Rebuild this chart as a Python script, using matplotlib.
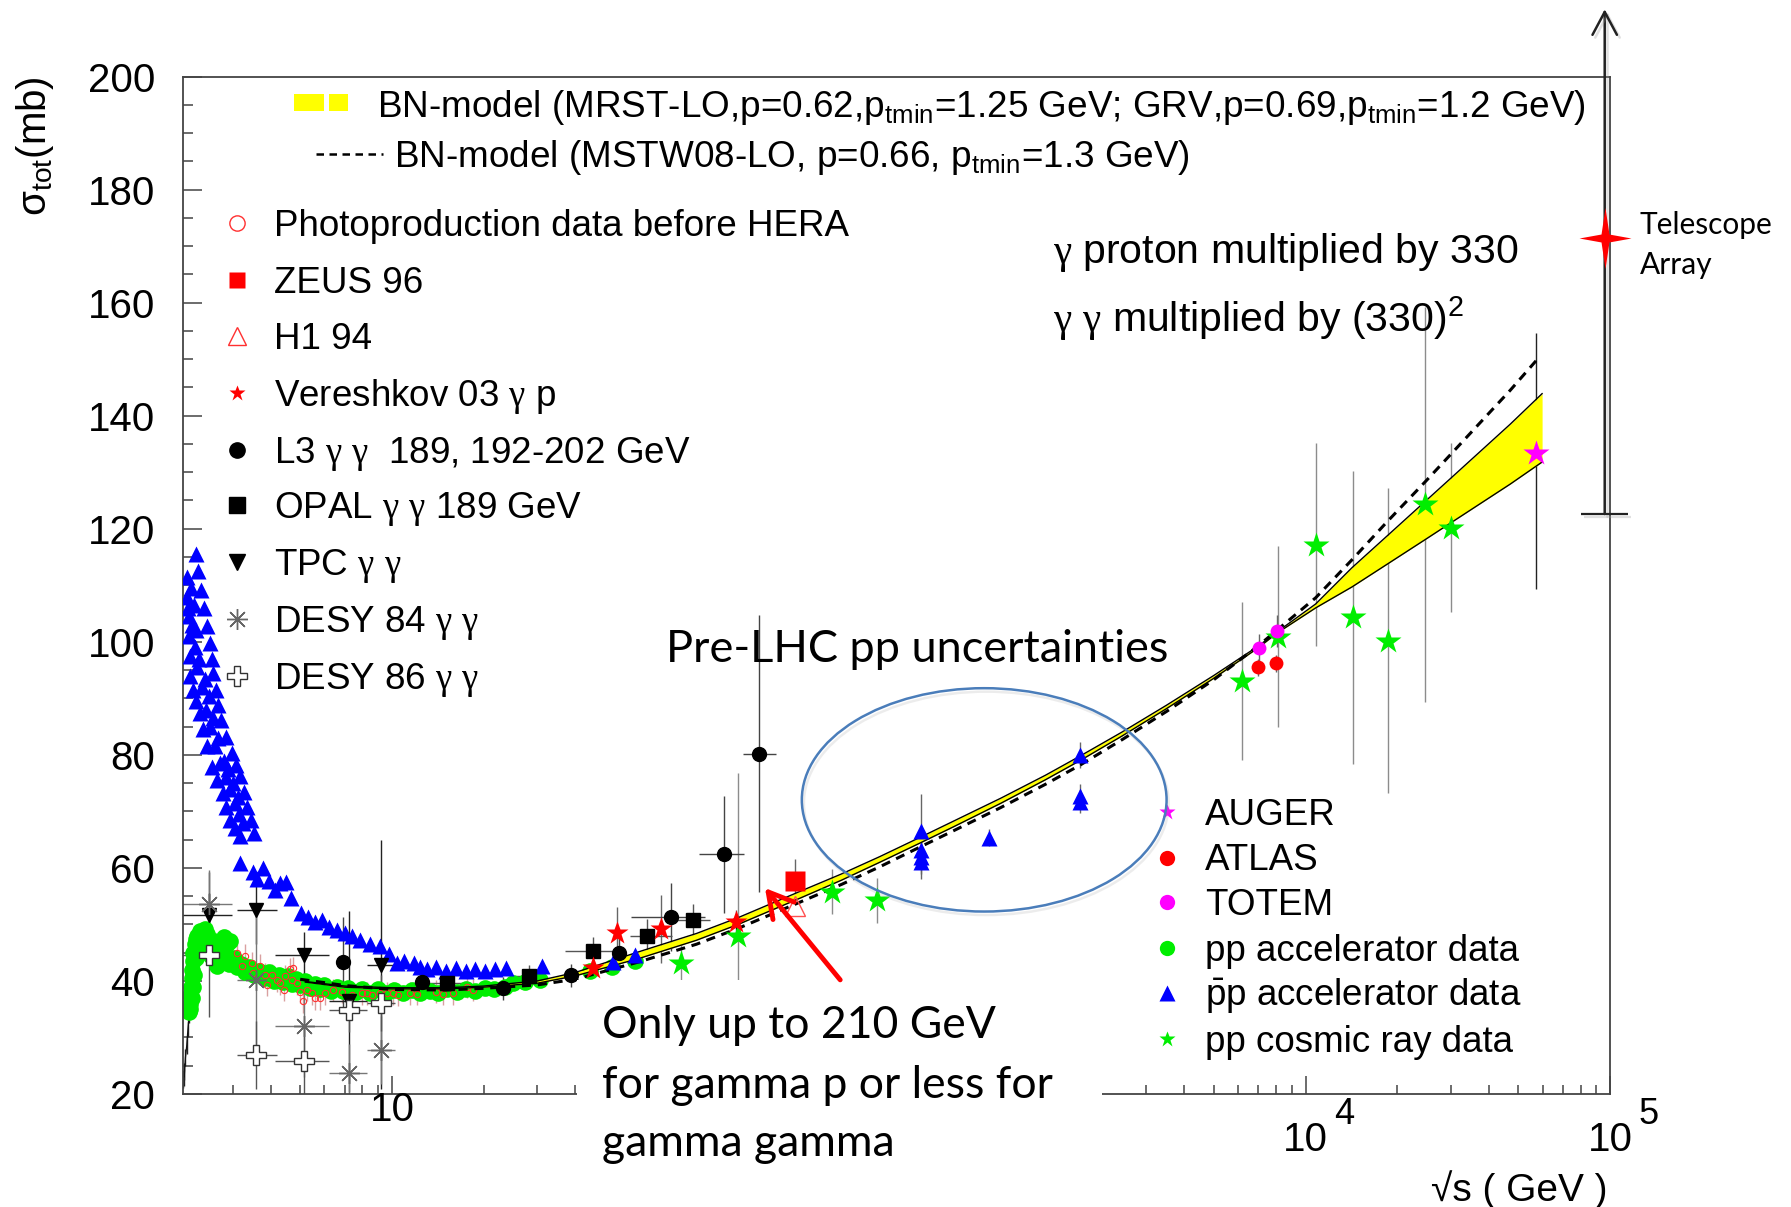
# Total cross sections: pp, pbar-p, gamma-p (x330) and gamma-gamma (x330^2) vs sqrt(s)
import numpy as np
import matplotlib
matplotlib.use("Agg")
import matplotlib.pyplot as plt
import matplotlib.transforms as mtransforms
import matplotlib.patheffects as pe
from matplotlib.patches import Ellipse, Rectangle
from matplotlib.path import Path
from matplotlib.ticker import LogLocator, MultipleLocator, NullFormatter

plt.rcParams['font.family'] = ['Liberation Sans', 'DejaVu Sans']
plt.rcParams['mathtext.fontset'] = 'custom'
plt.rcParams['mathtext.rm'] = 'Liberation Sans'
plt.rcParams['mathtext.it'] = 'Liberation Sans:italic'
plt.rcParams['mathtext.bf'] = 'Liberation Sans:bold'
plt.rcParams['mathtext.sf'] = 'Liberation Serif'   # used for the gamma symbols

# ---------------- BN model curves ----------------
band_x = [5.2, 7, 10, 15, 20, 30, 40, 65, 100, 137, 220, 300, 400, 547, 700, 1000, 1400,
          1820, 2500, 3500, 5000, 7000, 8040, 10800, 14200, 18500, 24900, 30500, 47000, 59800]
band_hi = [39.9, 39.1, 38.8, 38.8, 39.1, 40.0, 41.5, 45.2, 48.4, 51.2, 55.9, 58.95, 62.0,
           65.5, 68.3, 72.35, 76.4, 79.8, 84.05, 88.8, 94.05, 99.25, 101.7, 106.7, 113.1,
           118.7, 125.0, 129.3, 138.5, 143.9]
band_lo = [39.8, 38.9, 38.6, 38.6, 38.9, 39.6, 40.9, 44.0, 47.2, 50.0, 54.7, 57.85, 61.0,
           64.5, 67.3, 71.45, 75.6, 79.0, 83.35, 88.2, 93.55, 98.95, 101.5, 106.0, 109.7,
           113.7, 118.2, 121.3, 127.9, 131.8]

mstw_x = [5.0, 7, 10, 15, 20, 30, 40, 65, 100, 137, 220, 300, 400, 547, 700, 1000, 1400,
          1820, 2500, 3500, 5000, 7000, 10800, 14200, 18500, 24900, 30500, 47000, 57300]
mstw_y = [40.3, 39.2, 38.5, 38.4, 38.7, 39.3, 40.3, 43.4, 46.5, 49.3, 54.0, 57.1, 60.2,
          63.8, 66.6, 70.7, 74.8, 78.2, 82.7, 87.7, 93.3, 99.3, 107.8, 114.5, 121.2, 128.5,
          133.6, 144.5, 149.8]

# ---------------- accelerator data ----------------
pp_x = [2.16, 2.17, 2.18, 2.19, 2.20, 2.21, 2.22, 2.23, 2.25, 2.27, 2.30, 2.34, 2.38, 2.43,
        2.48, 2.52, 2.55, 2.60, 2.66, 2.72, 2.80, 2.88, 2.95, 3.02, 3.10, 3.20, 3.30, 3.40,
        3.52, 3.65, 3.80, 3.95, 4.10, 4.25, 4.40, 4.55, 4.70, 4.85, 5.00, 5.20, 5.40, 5.60,
        5.80, 6.00, 6.30, 6.60, 6.90, 7.20, 7.60, 8.00, 8.50, 9.00, 9.60, 10.2, 10.9, 11.6,
        12.4, 13.3, 14.2, 15.2, 16.3, 17.5, 18.8, 20.2, 21.7, 23.5, 25.0, 27.4, 30.6, 44.7,
        52.8, 62.7,
        2.18, 2.20, 2.22, 2.24, 2.28, 2.32, 2.36, 2.40, 2.45, 2.50, 2.58, 2.68, 2.76, 2.84,
        2.92]
pp_y = [34.5, 36.0, 37.5, 39.0, 40.5, 42.0, 43.5, 45.0, 46.5, 47.5, 48.0, 48.8, 48.5, 49.2,
        48.3, 47.0, 44.5, 47.0, 42.6, 46.0, 47.8, 46.5, 47.0, 44.0, 42.5, 43.0, 41.5, 42.5,
        41.0, 41.8, 40.5, 41.5, 40.0, 41.0, 39.8, 40.8, 39.5, 40.3, 39.2, 40.0, 38.8, 39.5,
        38.5, 39.2, 38.3, 39.0, 38.2, 38.8, 38.0, 38.6, 37.8, 38.5, 37.9, 38.4, 37.8, 38.4,
        37.9, 38.3, 37.8, 38.5, 38.0, 38.6, 38.2, 38.8, 38.5, 38.9, 39.6, 39.8, 40.1, 41.7,
        42.4, 43.6,
        35.0, 37.0, 39.0, 41.0, 44.0, 45.5, 46.0, 46.5, 45.5, 45.0, 45.5, 44.5, 44.0, 44.5,
        43.0]

# pp near threshold (thin black)
ppthr_x = [2.06, 2.07, 2.08, 2.10, 2.12, 2.14, 2.16]
ppthr_y = [22.5, 24.0, 23.0, 26.5, 28.5, 31.5, 34.0]

ppbar_x = [2.12, 2.13, 2.14, 2.15, 2.16, 2.17, 2.18, 2.22, 2.27, 2.34, 2.40, 2.47, 2.56, 2.66,
           2.78, 2.86, 2.94, 3.05, 3.18,
           2.27, 2.31, 2.36, 2.42, 2.47, 2.53, 2.56, 2.59, 2.64, 2.69, 2.74, 2.85, 2.98, 3.08,
           3.18, 3.26, 3.35, 3.44, 3.52,
           2.20, 2.25, 2.30, 2.38, 2.45, 2.52, 2.62, 2.72, 2.85, 2.95, 3.05, 3.15,
           2.19, 2.24, 2.28, 2.33, 2.43, 2.50, 2.58, 2.68, 2.80, 2.90, 3.00, 3.12, 3.25,
           3.16, 3.50, 3.62, 3.78, 3.95, 4.12, 4.30, 4.50, 4.68, 5.02, 5.30, 5.60, 5.90, 6.22,
           6.60, 7.00, 7.40, 7.86, 8.50, 9.15, 9.80, 10.4, 11.0, 11.8, 12.4, 13.0, 14.0, 15.0,
           16.2, 17.5, 18.8, 20.2, 21.8, 23.7, 31.2, 53.4, 63.0]
ppbar_y = [111.5, 108.0, 106.0, 104.5, 101.0, 97.5, 93.9, 91.5, 89.5, 87.4, 84.5, 81.5, 77.9,
           75.5, 73.2, 70.8, 68.5, 67.0, 65.6,
           115.6, 112.5, 109.2, 106.0, 102.8, 99.8, 97.0, 94.4, 91.5, 88.8, 86.2, 83.2, 80.3,
           78.2, 76.2, 73.5, 70.8, 68.4, 66.1,
           103.0, 99.0, 95.5, 92.0, 88.0, 85.0, 81.5, 78.5, 76.0, 74.0, 71.5, 69.5,
           109.5, 106.5, 102.0, 97.0, 93.5, 90.5, 86.5, 83.0, 79.0, 77.5, 75.0, 72.5, 68.0,
           60.9, 59.2, 58.0, 59.9, 57.6, 56.1, 57.3, 57.5, 54.6, 52.0, 51.3, 50.5, 50.8, 49.6,
           49.0, 48.4, 48.0, 47.3, 46.5, 46.1, 44.8, 43.1, 43.5, 43.1, 42.4, 42.2, 42.5, 41.8,
           42.3, 41.7, 42.2, 41.8, 42.2, 42.3, 42.7, 43.4, 44.6]

# SppS / Tevatron pbar-p
ppbar_hi_x = [547, 547, 547, 547, 915, 1820, 1820, 1820]
ppbar_hi_y = [66.5, 63.2, 61.9, 61.1, 65.3, 80.0, 72.8, 71.7]
ppbar_hi_err = [6.5, 3.0, 3.0, 3.0, 1.5, 2.3, 2.0, 2.0]

# LHC
atlas_x = [7000, 8000]
atlas_y = [95.5, 96.2]
atlas_err = [1.5, 1.5]
totem_x = [7030, 8040]
totem_y = [98.9, 101.9]
totem_err = [2.5, 2.9]

# cosmic rays
cosmic_x = [88.9, 137, 278, 391, 6190, 8100, 10800, 14300, 18700, 24600, 30100]
cosmic_y = [43.2, 47.9, 55.8, 54.3, 93.1, 100.9, 117.2, 104.3, 100.2, 124.3, 120.2]
cosmic_err = [4, 28.9, 4, 4, 14, 16, 18, 26, 27, 35, 15]

auger_x = [57300]
auger_y = [133.4]
auger_lo = [24.0]
auger_hi = [21.3]

ta_x = [96000]
ta_y = [171.5]
ta_low = [122.6]
ta_top = [211.9]

# ---------------- photoproduction (x330) ----------------
php_x = [3.11, 3.30, 3.21, 3.47, 3.69, 3.51, 3.83, 3.88, 4.03, 4.19, 4.30, 4.41, 4.46, 4.63,
         4.74, 4.69, 4.88, 4.99, 5.12, 5.25, 5.46, 5.60, 5.81, 6.04, 6.43, 6.84, 7.38, 7.98,
         8.27, 8.59, 9.15, 9.63, 10.1, 10.5, 11.5, 12.1, 14.0, 14.7, 15.9, 17.6, 18.5]
php_y = [45.0, 44.5, 42.6, 43.2, 42.7, 41.4, 41.1, 39.3, 41.0, 40.1, 39.6, 38.4, 40.8, 42.1,
         42.3, 40.2, 39.6, 38.1, 36.4, 38.4, 37.8, 36.9, 36.9, 37.8, 38.4, 38.1, 37.5, 37.8,
         37.8, 37.5, 37.8, 37.8, 37.8, 37.5, 37.8, 37.7, 38.1, 37.7, 37.8, 39.0, 38.4]

zeus_x = [210]
zeus_y = [57.6]
zeus_err = [4.0]
h1_x = [211]
h1_y = [53.2]

veresh_x = [45.9, 54.7, 76.7, 135]
veresh_y = [42.3, 48.5, 49.2, 50.5]
veresh_err = [1.5, 4.5, 6.0, 2.0]

# ---------------- gamma-gamma (x330^2) ----------------
l3_x = [6.89, 12.6, 23.1, 38.7, 55.8, 82.2, 122.8, 161]
l3_y = [43.3, 39.9, 38.7, 41.0, 44.9, 51.3, 62.4, 80.2]
l3_err = [8, 2, 2, 2, 3, 6, 10.4, 24.5]
l3_xlo = [6.89, 12.6, 23.1, 38.7, 55.8, 61, 102, 142]
l3_xhi = [6.89, 12.6, 23.1, 38.7, 55.8, 107, 143, 183]

opal_x = [15.2, 28.1, 45.9, 68.7, 97.3]
opal_y = [39.6, 40.8, 45.3, 48.0, 50.7]
opal_err = [2, 2, 2.5, 3, 3]
opal_xlo = [13.0, 25.0, 37.0, 60.5, 83.0]
opal_xhi = [18.0, 31.0, 58.0, 83.0, 111.0]

gg_bin_x = [2.50, 3.58, 5.16, 7.21, 9.22]
gg_bin_lo = [2.05, 3.10, 4.14, 6.22, 8.27]
gg_bin_hi = [2.98, 4.19, 6.22, 8.27, 10.24]
tpc_y = [51.7, 52.6, 44.6, 36.4, 42.9]
tpc_err = [7.5, 6, 4, 16, 22]
desy84_y = [53.6, 40.2, 32.0, 23.8, 27.8]
desy84_err = [6, 13, 9, 5, 6]
desy86_y = [44.6, 26.9, 25.9, 34.9, 36.1]
desy86_err = [11, 6, 6, 4, 5]

# axis tick labels drawn by hand (ROOT style)
xlab_vals = [10, 1e4, 1e5]
xlab_exp = ['', '4', '5']

# legend text
g = r"$\mathsf{\gamma}$"
left_labels = ["Photoproduction data before HERA", "ZEUS 96", "H1 94",
               f"Vereshkov 03 {g} p", f"L3 {g} {g}  189, 192-202 GeV",
               f"OPAL {g} {g} 189 GeV", f"TPC {g} {g}", f"DESY 84 {g} {g}",
               f"DESY 86 {g} {g}"]
left_ypos = [0.856, 0.800, 0.745, 0.689, 0.633, 0.579, 0.523, 0.467, 0.411]
right_labels = ["AUGER", "ATLAS", "TOTEM", "pp accelerator data",
                r"$\bar{\rm p}$p accelerator data", "pp cosmic ray data"]
right_ypos = [0.2772, 0.2323, 0.1886, 0.1437, 0.0988, 0.0539]
box_lines = ["Only up to 210 GeV", "for gamma p or less for", "gamma gamma"]
box_base = [0.055, -0.004, -0.0614]

# ---------------- figure ----------------
fig = plt.figure(figsize=(17.91, 12.07), dpi=100)
ax = fig.add_axes([0.1022, 0.0936, 0.7968, 0.8430])
ax.set_xscale('log')
ax.set_xlim(2.062, 1e5)
ax.set_ylim(20, 200)

frame = '#444444'
for s in ax.spines.values():
    s.set_color(frame)
    s.set_linewidth(1.3)
ax.xaxis.set_major_locator(LogLocator(base=10, numticks=20))
ax.xaxis.set_minor_locator(LogLocator(base=10, subs=np.arange(2, 10), numticks=20))
ax.xaxis.set_major_formatter(NullFormatter())
ax.xaxis.set_minor_formatter(NullFormatter())
ax.yaxis.set_major_locator(MultipleLocator(20))
ax.yaxis.set_minor_locator(MultipleLocator(5))
ax.tick_params(which='both', direction='in', top=False, right=False, color=frame, width=1.1)
ax.tick_params(axis='y', which='major', length=14, labelsize=29, pad=20)
ax.tick_params(axis='y', which='minor', length=7)
ax.tick_params(axis='x', which='major', length=13)
ax.tick_params(axis='x', which='minor', length=6.5)

trans = mtransforms.blended_transform_factory(ax.transData, ax.transAxes)
for v, e in zip(xlab_vals, xlab_exp):
    if e:
        ax.text(v, -0.0449, "10", transform=trans, ha='center', va='center', fontsize=29)
        ax.annotate(e, xy=(v, -0.0202), xycoords=trans, xytext=(28, 0),
                    textcoords='offset points', ha='center', va='center', fontsize=26)
    else:
        ax.text(v, -0.0157, "10", transform=trans, ha='center', va='center', fontsize=29)

ax.text(-0.104, 1.0, r"σ$_{\rm tot}$(mb)", rotation=90, ha='center', va='top',
        transform=ax.transAxes, fontsize=29)
ax.text(0.9984, -0.1055, "√s ( GeV )", ha='right', va='baseline',
        transform=ax.transAxes, fontsize=28)

# model band and curves
ax.fill_between(band_x, band_lo, band_hi, color='#ffff00', lw=0, zorder=2.5)
ax.plot(band_x, band_hi, color='black', lw=1.0, zorder=2.6)
ax.plot(band_x, band_lo, color='black', lw=1.0, zorder=2.6)
ax.plot(mstw_x, mstw_y, color='black', lw=2.2, ls=(0, (3, 2.2)), zorder=2.7)

# error bars
ebkw = dict(fmt='none', elinewidth=1.0, capsize=0)
ax.errorbar(php_x, php_y, yerr=2.0, ecolor='#d9a0a0', zorder=1.8, **ebkw)
ax.errorbar(cosmic_x, cosmic_y, yerr=cosmic_err, ecolor='#8c8c8c', zorder=1.8, **ebkw)
ax.errorbar(auger_x, auger_y, yerr=[auger_lo, auger_hi], ecolor='#222222', zorder=1.8, **ebkw)
ax.errorbar(ppbar_hi_x, ppbar_hi_y, yerr=ppbar_hi_err, ecolor='#666666', zorder=1.8, **ebkw)
ax.errorbar(atlas_x, atlas_y, yerr=atlas_err, ecolor='#666666', zorder=1.8, **ebkw)
ax.errorbar(totem_x, totem_y, yerr=totem_err, ecolor='#666666', zorder=1.8, **ebkw)
ax.errorbar(zeus_x, zeus_y, yerr=zeus_err, ecolor='#666666', zorder=1.8, **ebkw)
ax.errorbar(veresh_x, veresh_y, yerr=veresh_err, ecolor='#666666', zorder=1.8, **ebkw)
l3_xe = [np.array(l3_x) - np.array(l3_xlo), np.array(l3_xhi) - np.array(l3_x)]
ax.errorbar(l3_x, l3_y, yerr=l3_err, xerr=l3_xe, ecolor='#444444', zorder=1.8, **ebkw)
opal_xe = [np.array(opal_x) - np.array(opal_xlo), np.array(opal_xhi) - np.array(opal_x)]
ax.errorbar(opal_x, opal_y, yerr=opal_err, xerr=opal_xe, ecolor='#555555', zorder=1.8, **ebkw)
gg_xe = [np.array(gg_bin_x) - np.array(gg_bin_lo), np.array(gg_bin_hi) - np.array(gg_bin_x)]
ax.errorbar(gg_bin_x, tpc_y, yerr=tpc_err, xerr=gg_xe, ecolor='#222222', zorder=1.8, **ebkw)
ax.errorbar(gg_bin_x, desy84_y, yerr=desy84_err, xerr=gg_xe, ecolor='#777777', zorder=1.8, **ebkw)
ax.errorbar(gg_bin_x, desy86_y, yerr=desy86_err, xerr=gg_xe, ecolor='#555555', zorder=1.8, **ebkw)
ax.errorbar(ppthr_x, ppthr_y, yerr=1.5, ecolor='#222222', zorder=1.8, **ebkw)
ax.plot(ppthr_x, ppthr_y, color='#111111', lw=0.9, zorder=1.9)

# markers
green = '#00ee00'
ax.plot(pp_x, pp_y, 'o', color=green, ms=12, mec='none', zorder=2.0)
ax.plot(php_x, php_y, 'o', ms=4.5, mfc='none', mec='#ff3030', mew=0.8, zorder=2.2)
ax.plot(ppbar_x, ppbar_y, '^', color='#0000ff', ms=11.5, mec='none', zorder=3)
ax.plot(ppbar_hi_x, ppbar_hi_y, '^', color='#0000ff', ms=11, mec='none', zorder=3)
ax.plot(cosmic_x, cosmic_y, '*', color=green, ms=19, mec='none', zorder=3.1)
ax.plot(l3_x, l3_y, 'o', color='black', ms=10, zorder=3.2)
ax.plot(opal_x, opal_y, 's', color='black', ms=10, zorder=3.2)
ax.plot(gg_bin_x, tpc_y, 'v', color='black', ms=10.5, zorder=3.2)
ax.plot(gg_bin_x, desy84_y, marker=(8, 2, 0), ls='none', color='#666666', ms=15, mew=1.0, zorder=3.2)
ax.plot(gg_bin_x, desy86_y, 'P', ms=14, mfc='white', mec='#333333', mew=1.0, zorder=3.2)
ax.plot(veresh_x, veresh_y, '*', color='#ff0000', ms=17, mec='none', zorder=3.3)
ax.plot(h1_x, h1_y, '^', ms=14, mfc='none', mec='#ff5050', mew=1.0, zorder=3.3)
ax.plot(zeus_x, zeus_y, 's', color='#ff0000', ms=15, mec='none', zorder=3.3)
ax.plot(atlas_x, atlas_y, 'o', color='#ff0000', ms=10, mec='none', zorder=3.3)
ax.plot(totem_x, totem_y, 'o', color='#ff00ff', ms=10, mec='none', zorder=3.4)
ax.plot(auger_x, auger_y, '*', color='#ff00ff', ms=19, mec='none', zorder=3.4)

# Telescope Array point with lower bound and open-ended arrow
star4 = Path([(0, 1), (0.13, 0.13), (0.85, 0), (0.13, -0.13), (0, -1), (-0.13, -0.13),
              (-0.85, 0), (-0.13, 0.13), (0, 1)],
             [Path.MOVETO] + [Path.LINETO] * 7 + [Path.CLOSEPOLY])
shadow = [pe.SimpleLineShadow(offset=(2, -2), shadow_color='#999999', alpha=0.3), pe.Normal()]
ta_arrow = ax.annotate('', xy=(ta_x[0], ta_top[0]), xytext=(ta_x[0], ta_low[0]),
                       arrowprops=dict(arrowstyle='->,head_length=0.75,head_width=0.4',
                                       color='#222222', lw=1.8, shrinkA=0, shrinkB=0,
                                       mutation_scale=22),
                       annotation_clip=False, zorder=8)
ta_arrow.arrow_patch.set_path_effects(shadow)
cap, = ax.plot(ta_x, ta_low, marker='_', ms=34, mew=1.6, color='#222222', clip_on=False, zorder=8)
cap.set_path_effects(shadow)
ax.plot(ta_x, ta_y, marker=star4, ms=44, color='#ff0000', mec='none', ls='none',
        clip_on=False, zorder=9)
ax.text(1.0206, 0.845, "Telescope", transform=ax.transAxes, fontsize=21.5, family='Lato',
        ha='left', va='baseline')
ax.text(1.0206, 0.806, "Array", transform=ax.transAxes, fontsize=21.5, family='Lato',
        ha='left', va='baseline')

# top legend (model curves)
ax.add_patch(Rectangle((0.0778, 0.9661), 0.0210, 0.0167, transform=ax.transAxes,
                       color='#ffff00', lw=0, clip_on=False, zorder=5))
ax.add_patch(Rectangle((0.1023, 0.9661), 0.0134, 0.0167, transform=ax.transAxes,
                       color='#ffff00', lw=0, clip_on=False, zorder=5))
ax.plot([0.0935, 0.140], [0.9237, 0.9237], color='black', lw=1.8, ls=(0, (3, 2.2)),
        transform=ax.transAxes, zorder=5)
ax.text(0.1359, 0.9607,
        r"BN-model (MRST-LO,p=0.62,p$_{\rm tmin}$=1.25 GeV; GRV,p=0.69,p$_{\rm tmin}$=1.2 GeV)",
        transform=ax.transAxes, fontsize=26.6, ha='left', va='baseline')
ax.text(0.148, 0.9113, r"BN-model (MSTW08-LO, p=0.66, p$_{\rm tmin}$=1.3 GeV)",
        transform=ax.transAxes, fontsize=26.6, ha='left', va='baseline')

# left legend
left_styles = [dict(marker='o', ms=11, mfc='none', mec='#ff3030', mew=1.0),
               dict(marker='s', ms=11, color='#ff0000', mec='none'),
               dict(marker='^', ms=13, mfc='none', mec='#ff3030', mew=1.0),
               dict(marker='*', ms=12, color='#ff0000', mec='none'),
               dict(marker='o', ms=11, color='black'),
               dict(marker='s', ms=11, color='black'),
               dict(marker='v', ms=11, color='black'),
               dict(marker=(8, 2, 0), ms=15, color='#666666', mew=1.0),
               dict(marker='P', ms=14, mfc='white', mec='#333333', mew=1.0)]
for lab, yy, st in zip(left_labels, left_ypos, left_styles):
    ax.plot([0.0375], [yy], ls='none', transform=ax.transAxes, clip_on=False, zorder=5, **st)
    ax.text(0.0639, yy - 0.0128, lab, transform=ax.transAxes, fontsize=26.5,
            ha='left', va='baseline')

# right legend
right_styles = [dict(marker='*', ms=12, color='#ff00ff', mec='none'),
                dict(marker='o', ms=11, color='#ff0000', mec='none'),
                dict(marker='o', ms=11, color='#ff00ff', mec='none'),
                dict(marker='o', ms=11, color=green, mec='none'),
                dict(marker='^', ms=11, color='#0000ff', mec='none'),
                dict(marker='*', ms=12, color=green, mec='none')]
for lab, yy, st in zip(right_labels, right_ypos, right_styles):
    ax.plot([0.6898], [yy], ls='none', transform=ax.transAxes, clip_on=False, zorder=5, **st)
    ax.text(0.7161, yy - 0.0125, lab, transform=ax.transAxes, fontsize=26.5,
            ha='left', va='baseline')

# scaling notes
ax.text(0.6097, 0.817, f"{g} proton multiplied by 330", transform=ax.transAxes,
        fontsize=29.5, ha='left', va='baseline')
ax.text(0.6097, 0.7497, f"{g} {g} multiplied by (330)" + r"$^{2}$", transform=ax.transAxes,
        fontsize=29.5, ha='left', va='baseline')

# callouts
ax.text(0.3385, 0.4242, "Pre-LHC pp uncertainties", transform=ax.transAxes,
        fontsize=32.5, family='Lato', ha='left', va='baseline', zorder=6)
ell = Ellipse((0.5614, 0.2891), 0.2556, 0.2195, transform=ax.transAxes, fill=False,
              ec='#4a7dba', lw=1.8, zorder=6)
ell.set_path_effects([pe.SimpleLineShadow(offset=(1.5, -2.5), shadow_color='#999999', alpha=0.18),
                      pe.Normal()])
ax.add_patch(ell)

ax.add_patch(Rectangle((0.276, -0.0864), 0.368, 0.1986, transform=ax.transAxes,
                       facecolor='white', edgecolor='none', clip_on=False, zorder=20))
for line, yb in zip(box_lines, box_base):
    ax.text(0.2937, yb, line, transform=ax.transAxes, fontsize=32, family='Lato',
            ha='left', va='baseline', zorder=21)
ax.annotate('', xy=(0.4078, 0.2024), xytext=(0.4605, 0.1122), xycoords='axes fraction',
            arrowprops=dict(arrowstyle='->,head_length=0.8,head_width=0.45', color='#ff0000',
                            lw=3.5, shrinkA=0, shrinkB=0, mutation_scale=22),
            zorder=22)

fig.savefig('out.png', dpi=100)
